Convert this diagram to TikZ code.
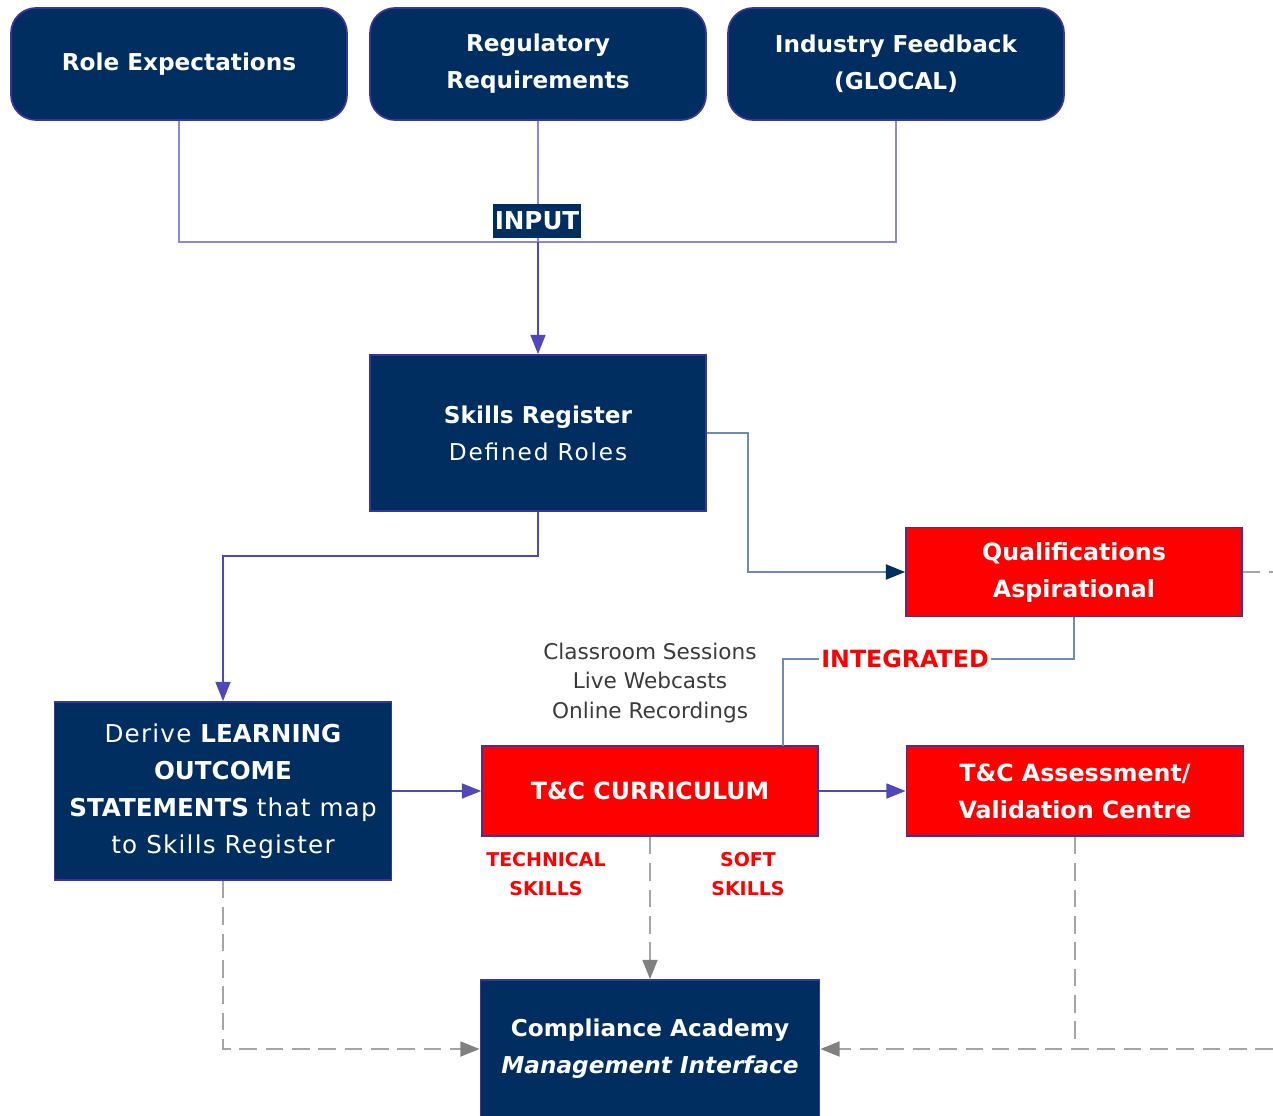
\documentclass[tikz,border=0pt]{standalone}
\usepackage{fontspec}
\setmainfont{DejaVu Sans}
\usetikzlibrary{arrows.meta}

\definecolor{navyfill}{RGB}{0,46,96}
\definecolor{boxedge}{RGB}{58,52,160}
\definecolor{inputline}{RGB}{140,135,214}
\definecolor{flowline}{RGB}{80,72,184}
\definecolor{steelline}{RGB}{108,140,180}
\definecolor{dashgray}{RGB}{165,165,165}
\definecolor{tipgray}{RGB}{128,128,128}
\definecolor{textgray}{RGB}{58,58,58}

\begin{document}
\begin{tikzpicture}[x=0.02cm, y=-0.02cm,
  boxfont/.style={font=\fontsize{13.2}{21}\selectfont},
  topbox/.style={draw=boxedge, line width=1pt, fill=navyfill, rounded corners=0.5cm,
    text=white, align=center, minimum width=6.72cm, minimum height=2.24cm, inner sep=0pt,
    font=\fontsize{13.2}{21}\selectfont\bfseries},
  navybox/.style={boxfont, draw=boxedge, line width=1pt, fill=navyfill, text=white,
    align=center, inner sep=0pt},
  redbox/.style={draw=boxedge, line width=1pt, fill=red, text=white,
    align=center, inner sep=0pt, font=\fontsize{13.5}{21}\selectfont\bfseries},
  redlabel/.style={text=red, align=center, font=\fontsize{10.8}{16.5}\selectfont\bfseries},
  inputline/.style={draw=inputline, line width=1.1pt},
  flow/.style={draw=flowline, line width=1.2pt, -{Triangle[length=11pt,width=8.5pt]}},
  steelflow/.style={draw=steelline, line width=1.3pt, -{Triangle[length=11pt,width=8.5pt,color=navyfill]}},
  steelline/.style={draw=steelline, line width=1.3pt},
  dashline/.style={draw=dashgray, line width=1.2pt, dash pattern=on 10pt off 5pt},
  dashflow/.style={dashline, -{Triangle[length=11pt,width=8.5pt,color=tipgray]}}
]
  \useasboundingbox (0,0) rectangle (1273,1115);
  \clip (0,0) rectangle (1273,1115);

  % Top row: inputs
  \node[topbox] (role) at (179,64) {Role Expectations};
  \node[topbox] (regulatory) at (538,64) {Regulatory\\Requirements};
  \node[topbox] (industry) at (896,64) {Industry Feedback\\(GLOCAL)};

  % Main boxes
  \node[navybox, minimum width=6.72cm, minimum height=3.12cm] (skills) at (538,433)
    {\textbf{Skills Register}\\{\addfontfeatures{LetterSpace=8}Defined Roles}};
  \node[redbox, minimum width=6.72cm, minimum height=1.78cm] (qual) at (1074,572)
    {Qualifications\\Aspirational};
  \node[navybox, minimum width=6.74cm, minimum height=3.56cm, font=\fontsize{14}{21}\selectfont] (derive) at (223,791)
    {{\addfontfeatures{LetterSpace=5}Derive} \textbf{LEARNING}\\\textbf{OUTCOME}\\\textbf{STATEMENTS}
     {\addfontfeatures{LetterSpace=5}that map}\\{\addfontfeatures{LetterSpace=5}to Skills Register}};
  \node[redbox, minimum width=6.72cm, minimum height=1.8cm] (tc) at (650,791) {T\&C CURRICULUM};
  \node[redbox, minimum width=6.74cm, minimum height=1.8cm] (assess) at (1075,791)
    {T\&C Assessment/\\Validation Centre};
  \node[navybox, minimum width=6.78cm, minimum height=2.76cm, font=\fontsize{13.2}{21}\selectfont\bfseries] (ca) at (650,1049)
    {Compliance Academy\\\textit{Management Interface}};

  % Free texts
  \node[text=textgray, align=center, font=\fontsize{12.3}{17}\selectfont] (delivery) at (650,683)
    {Classroom Sessions\\Live Webcasts\\Online Recordings};
  \node[redlabel] (technical) at (546,874) {TECHNICAL\\SKILLS};
  \node[redlabel] (soft) at (748,874) {SOFT\\SKILLS};

  % Input lines
  \coordinate (join) at (538,242);
  \draw[inputline] (role.south) |- (join);
  \draw[inputline] (industry.south) |- (join);
  \draw[inputline] (regulatory.south) -- (join);
  \draw[flow] (join) -- (skills.north);
  \node[fill=navyfill, text=white, inner xsep=1pt, inner ysep=4.5pt,
    font=\fontsize{14}{16}\selectfont\bfseries] (input) at (537,221) {INPUT};

  % Flow arrows
  \draw[steelflow] (skills.east) -- ++(41,0) |- (qual.west);
  \draw[flow] (skills.south) -- ++(0,44) -| (derive.north);
  \draw[flow] (derive.east) -- (tc.west);
  \draw[flow] (tc.east) -- (assess.west);

  % Integrated link
  \coordinate (tcport) at (783,746);
  \node[text=red, inner sep=1pt, font=\fontsize{13.5}{16}\selectfont\bfseries] (integ) at (905,659) {INTEGRATED};
  \draw[steelline] (tcport) |- (integ.west);
  \draw[steelline] (integ.east) -| (qual.south);

  % Dashed links to the academy
  \coordinate (offqual) at (1273,572);
  \coordinate (offca) at (1273,1049);
  \draw[dashline] (qual.east) -- (offqual);
  \draw[dashflow] (tc.south) -- (ca.north);
  \draw[dashflow] (derive.south) |- (ca.west);
  \draw[dashline] (assess.south) -- (assess.south |- ca.east);
  \draw[dashflow] (offca) -- (ca.east);
\end{tikzpicture}
\end{document}
